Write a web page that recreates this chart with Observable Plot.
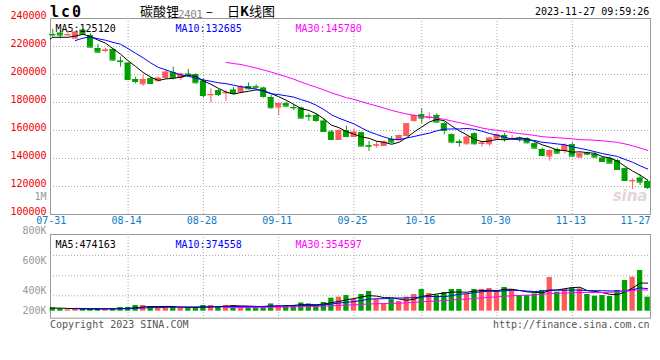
<!DOCTYPE html>
<html><head><meta charset="utf-8">
<script src="https://cdn.jsdelivr.net/npm/d3@7"></script>
<script src="https://cdn.jsdelivr.net/npm/@observablehq/plot@0.6"></script>
<style>
body{margin:0;background:#fff;}
#wrap{position:relative;width:660px;height:360px;overflow:hidden;font-family:"DejaVu Sans Mono",monospace;background:#fff;}
.abs{position:absolute;white-space:nowrap;line-height:1;}
</style></head><body><div id="wrap">
<div class="abs" id="main" style="left:0;top:0"></div>
<div class="abs" id="vol" style="left:0;top:225px"></div>
<div class="abs" style="left:50px;top:3px;font:bold 15px 'DejaVu Sans Mono';letter-spacing:2px;color:#000">lc0</div>
<div class="abs" style="left:140px;top:1px;font:13px 'Noto Sans CJK SC';color:#000">碳酸锂</div>
<div class="abs" style="left:178px;top:8px;font:11px 'DejaVu Sans Mono';color:#888;letter-spacing:-0.5px">2401</div>
<div class="abs" style="left:206px;top:1px;font:13px 'Noto Sans CJK SC';color:#000">–</div>
<div class="abs" style="left:227px;top:1px;font:13px 'Noto Sans CJK SC';color:#000">日<b>K</b>线图</div>
<div class="abs" style="left:535px;top:7px;font-size:10px;color:#000">2023-11-27 09:59:26</div>
<div class="abs" style="left:50px;top:320px;font-size:10px;color:#555">Copyright 2023 SINA.COM</div>
<div class="abs" style="left:493px;top:320px;font-size:10px;color:#555">http://finance.sina.com.cn</div>
</div>
<script>
const dates = ["07-31","08-01","08-02","08-03","08-04","08-07","08-08","08-09","08-10","08-11",
"08-14","08-15","08-16","08-17","08-18","08-21","08-22","08-23","08-24","08-25",
"08-28","08-29","08-30","08-31","09-01","09-04","09-05","09-06","09-07","09-08",
"09-11","09-12","09-13","09-14","09-15","09-18","09-19","09-20","09-21","09-22",
"09-25","09-26","09-27","09-28","10-09","10-10","10-11","10-12","10-13",
"10-16","10-17","10-18","10-19","10-20","10-23","10-24","10-25","10-26","10-27",
"10-30","10-31","11-01","11-02","11-03","11-06","11-07","11-08","11-09","11-10",
"11-13","11-14","11-15","11-16","11-17","11-20","11-21","11-22","11-23","11-24","11-27"];
const open = [228500,229520,228330,225950,231670,227860,218570,217140,217860,209520,
208100,196430,193330,196900,195480,197860,201190,197860,200240,199760,
195240,185480,188330,186900,188810,187620,191430,191190,190240,183570,
176670,179050,176430,175950,170480,170710,166670,158810,153570,160000,
155710,158330,149050,149520,149290,153570,153330,156430,167140,
171190,169290,170710,164760,156900,151900,150480,157620,150710,150480,
154050,156430,153810,154520,154050,150480,146430,141670,146190,145710,
149760,140950,143570,142860,140240,139760,138570,132620,124050,125950,123570];
const high = [232140,230950,230950,230480,232140,229050,221430,218810,218330,212380,
208330,198100,199760,198100,198100,203330,205240,200950,203570,200480,
196900,189760,189290,188570,190710,192140,194050,192620,190950,185000,
179520,180240,178330,176670,171900,171900,168330,160000,160480,163100,
161190,158810,152140,152140,152620,155710,156670,165000,171190,
175480,172620,171900,165950,157620,153330,155950,158330,152140,155240,
157620,158100,156430,155240,154760,151670,147380,146190,147380,150480,
151190,143810,144520,144050,140950,140950,139050,133100,125480,128330,124290];
const low = [226670,225480,227620,225480,228330,219050,215000,215480,209760,205240,
196190,193330,191670,192860,195000,196430,196190,195710,198100,193330,
183100,179760,184290,180710,185950,186900,189050,189290,183100,175480,
170710,176670,174290,168330,166430,165950,158810,152860,152860,155240,
155000,148570,145000,147380,148570,150480,152860,156000,165950,
164760,167620,165480,156900,150480,148100,149760,149760,148100,148810,
152860,151670,152860,151670,150480,146900,141430,138100,142860,143330,
140950,140480,142140,140240,137380,136190,131430,123810,117860,120710,117860];
const close = [228330,228100,228500,230240,228810,219520,215950,217500,210240,209290,
196430,195000,196430,193570,197380,201670,197620,200240,200000,194050,
185000,185710,185710,187140,186430,190950,189760,190950,184290,176190,
179290,177380,176190,168810,170240,167140,159290,153570,160000,155710,
158810,148810,148810,149760,151670,151670,156430,164760,170710,
168810,169520,165950,160000,151670,151430,155240,150480,150950,154520,
156900,154050,154050,154050,151190,147380,142140,145710,143810,149290,
141670,143330,143100,140950,137860,136670,132140,124290,124290,123100,119290];
const volume = [56000,39000,22000,39000,39000,39000,39000,39000,39000,63000,
63000,96000,96000,79000,56000,79000,79000,56000,56000,56000,
96000,96000,79000,96000,96000,79000,79000,56000,79000,123000,
96000,96000,96000,140000,123000,96000,147000,220000,237000,265000,
198000,282000,333000,198000,130000,198000,164000,237000,282000,
367000,299000,270000,316000,367000,367000,282000,367000,367000,384000,
333000,401000,367000,265000,265000,292000,350000,570000,321000,367000,
389000,377000,282000,254000,265000,248000,350000,519000,575000,688000,237000];
// sessions before 07-31 (07-21..07-28), not drawn as candles, only feed the moving averages
const priorClose = [212000,211000,228000,228400,226000,222000];
const priorVolume = [60000,50000,45000,50000,55000,60000];

const priceTicks = [240000,220000,200000,180000,160000,140000,120000,100000];
const priceGrid = [220000,200000,180000,160000,140000,120000];
const axisDates = ["07-31","08-14","08-28","09-11","09-25","10-16","10-30","11-13","11-27"];
const maNames = ["MA5","MA10","MA30"];
const maWindows = [5,10,30];
const maColors = ["#000000","#0000ff","#ff00ff"];
const priceMALabels = ["125120","132685","145780"];
const volMALabels = ["474163","374558","354597"];
const volTickLabels = ["800K","600K","400K","200K"];
const volTickValues = [1364000,857000,350000,0];
const volGrid = [940000,600000,260000];

const upColor = "#ff5a5a", downColor = "#00a000", gridColor = "#a8a8a8", borderColor = "#999";
const rows = dates.map((d,i)=>({i, date:d, o:open[i], h:high[i], l:low[i], c:close[i], v:volume[i]}));
const hist = priorClose.map((c,k)=>({i:k-priorClose.length, c, v:priorVolume[k]})).concat(rows);
const col = d => d.c >= d.o ? upColor : downColor;
const gridIdx = axisDates.slice(1,-1).map(d=>dates.indexOf(d));
const xDomain = [-0.305, 79.38];
const font = "DejaVu Sans Mono";
const legendDx = [5,125,245];

const maLines = (field) => maWindows.map((k,j)=>Plot.line(hist, Plot.windowY({k, anchor:"end", reduce:"mean", strict:true},
  {x:"i", y:field, stroke:maColors[j], strokeWidth:1, clip:true})));
const legends = (vals) => maNames.map((n,j)=>Plot.text([n+":"+vals[j]], {text:d=>d, frameAnchor:"top-left", dx:legendDx[j], dy:6,
  textAnchor:"start", fill:maColors[j], fontSize:10, fontFamily:font}));

const main = Plot.plot({
  width:660, height:228, marginLeft:50, marginRight:10, marginTop:18, marginBottom:14,
  style:{background:"transparent", overflow:"visible"},
  x:{domain:xDomain, axis:null},
  y:{domain:[100000,240000], axis:null},
  marks:[
    Plot.ruleY(priceGrid,{stroke:gridColor, strokeDasharray:"1,2"}),
    Plot.ruleX(gridIdx,{stroke:gridColor, strokeDasharray:"1,2"}),
    Plot.text(["sina"],{text:d=>d, frameAnchor:"bottom-right", dx:-3, dy:-14, textAnchor:"end", fill:"#e2d6d6", fontSize:15, fontWeight:"bold", fontStyle:"italic", fontFamily:"DejaVu Sans"}),
    Plot.frame({stroke:borderColor}),
    Plot.ruleX(rows,{x:"i", y1:"l", y2:"h", stroke:col}),
    Plot.rect(rows,{x1:d=>d.i-0.4, x2:d=>d.i+0.4, y1:"o", y2:"c", fill:col}),
    Plot.ruleY(rows,{y:"c", x1:d=>d.i-0.4, x2:d=>d.i+0.4, stroke:col}),
    Plot.ruleY(rows,{y:"o", x1:d=>d.i-0.4, x2:d=>d.i+0.4, stroke:col}),
    ...maLines("c"),
    ...legends(priceMALabels),
    Plot.text(priceTicks,{y:d=>d, text:d=>String(d), frameAnchor:"left", textAnchor:"end", dx:-4, dy:-2.5, fill:"#f00000", fontSize:10, fontFamily:font}),
    Plot.text(["1M"],{text:d=>d, frameAnchor:"bottom-left", textAnchor:"end", dx:-4, dy:-15, fill:"#999", fontSize:10, fontFamily:font}),
    Plot.text(axisDates.slice(0,-1),{x:d=>dates.indexOf(d), text:d=>d, frameAnchor:"bottom", dy:9, dx:-1.5, fill:"#0a7cc4", fontSize:10, fontFamily:font}),
    Plot.text(axisDates.slice(-1),{x:d=>dates.indexOf(d), text:d=>d, frameAnchor:"bottom", dy:9, dx:3, textAnchor:"end", fill:"#0a7cc4", fontSize:10, fontFamily:font})
  ]
});
document.getElementById("main").append(main);

const vol = Plot.plot({
  width:660, height:95, marginLeft:50, marginRight:10, marginTop:9, marginBottom:9.3,
  style:{background:"transparent", overflow:"visible"},
  x:{domain:xDomain, axis:null},
  y:{domain:[0,1296000], axis:null},
  marks:[
    Plot.ruleY(volGrid,{stroke:gridColor, strokeDasharray:"1,2"}),
    Plot.ruleX(gridIdx,{stroke:gridColor, strokeDasharray:"1,2", insetBottom:-9}),
    Plot.frame({stroke:borderColor, insetBottom:-7}),
    Plot.rect(rows,{x1:d=>d.i-0.35, x2:d=>d.i+0.35, y1:0, y2:"v", fill:col}),
    ...maLines("v"),
    ...legends(volMALabels),
    Plot.text(volTickValues,{y:d=>d, text:(d,k)=>volTickLabels[k], frameAnchor:"left", textAnchor:"end", dx:-4, fill:"#999", fontSize:10, fontFamily:font})
  ]
});
document.getElementById("vol").append(vol);
</script>
</body></html>
